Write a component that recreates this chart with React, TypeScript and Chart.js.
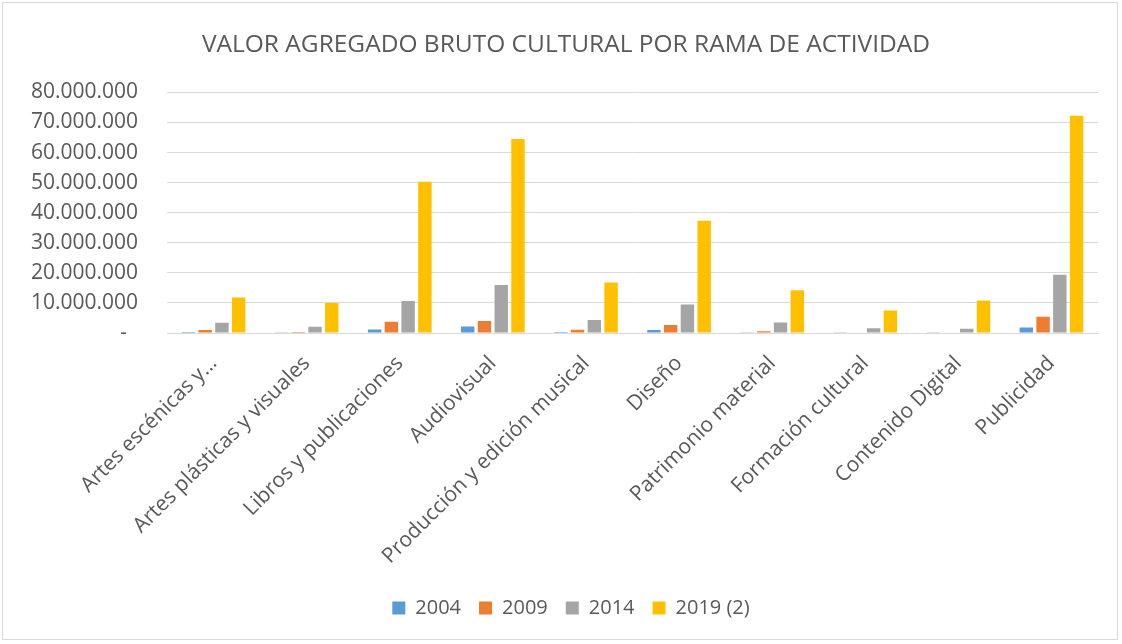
import React, { useEffect, useRef } from "react";
import { Chart, registerables } from "chart.js";

Chart.register(...registerables);

const categories = [
  "Artes escénicas y…",
  "Artes plásticas y visuales",
  "Libros y publicaciones",
  "Audiovisual",
  "Producción y edición musical",
  "Diseño",
  "Patrimonio material",
  "Formación cultural",
  "Contenido Digital",
  "Publicidad",
];

const series2004 = [300000, 100000, 1200000, 2200000, 300000, 1000000, 100000, 100000, 100000, 1800000];
const series2009 = [1000000, 300000, 3700000, 4000000, 1100000, 2700000, 600000, 200000, 200000, 5400000];
const series2014 = [3400000, 2100000, 10600000, 16000000, 4300000, 9500000, 3500000, 1600000, 1400000, 19400000];
const series2019 = [11800000, 10000000, 50300000, 64500000, 16800000, 37300000, 14200000, 7500000, 10800000, 72200000];

const seriesLabels = ["2004", "2009", "2014", "2019 (2)"];
const seriesColors = ["#5b9bd5", "#ed7d31", "#a5a5a5", "#ffc000"];

const titleText = "VALOR AGREGADO BRUTO CULTURAL POR RAMA DE ACTIVIDAD";

function fmt(v: number): string {
  if (v === 0) return "-  ";
  return String(Math.round(v)).replace(/\B(?=(\d{3})+(?!\d))/g, ".");
}

const shiftPlugin = {
  id: "shiftBlocks",
  afterLayout(chart: any) {
    const t = chart.titleBlock;
    if (t) {
      t.left = 34;
      t.right = 1098;
      t.width = t.right - t.left;
    }
    const l = chart.legend;
    if (l) {
      l.left = 44;
      l.right = 1098;
      l.width = l.right - l.left;
      if (typeof l.adjustHitBoxes === "function") l.adjustHitBoxes();
    }
  },
};

export default function App() {
  const ref = useRef<HTMLCanvasElement | null>(null);

  useEffect(() => {
    if (!ref.current) return;
    const font = "'Open Sans', sans-serif";
    const data = [series2004, series2009, series2014, series2019];
    const chart = new Chart(ref.current, {
      type: "bar",
      data: {
        labels: categories,
        datasets: data.map((d, i) => ({
          label: seriesLabels[i],
          data: d,
          backgroundColor: seriesColors[i],
          borderWidth: 0,
          barPercentage: 0.8,
          categoryPercentage: 0.72,
        })),
      },
      plugins: [shiftPlugin],
      options: {
        animation: false,
        responsive: false,
        maintainAspectRatio: false,
        layout: { padding: { left: 0, right: 24, top: 0, bottom: 16 } },
        plugins: {
          title: {
            display: true,
            text: titleText,
            color: "#595959",
            font: { family: font, size: 24.5, weight: "normal" },
            padding: { top: 30, bottom: 33 },
          },
          legend: {
            position: "bottom",
            labels: {
              color: "#595959",
              font: { family: font, size: 20 },
              boxWidth: 13,
              boxHeight: 13,
              padding: 18,
            },
          },
          tooltip: { enabled: false },
        },
        scales: {
          x: {
            grid: { display: false, drawTicks: false },
            border: { color: "#d9d9d9", width: 1 },
            afterFit: (s: any) => {
              s.height = 247;
            },
            ticks: {
              color: "#595959",
              font: { family: font, size: 21 },
              maxRotation: 45,
              minRotation: 45,
              autoSkip: false,
              padding: 18,
            },
          },
          y: {
            min: 0,
            max: 80000000,
            grid: { color: "#d9d9d9", drawTicks: false },
            border: { display: false },
            afterFit: (s: any) => {
              s.width = 167;
            },
            ticks: {
              stepSize: 10000000,
              color: "#595959",
              font: { family: font, size: 21 },
              padding: 29,
              callback: (v: any) => fmt(Number(v)),
            },
          },
        },
      },
    });
    return () => chart.destroy();
  }, []);

  return (
    <div style={{ position: "fixed", left: 0, top: 0, width: 1122, height: 644, background: "#fff" }}>
      <div
        style={{
          position: "absolute",
          left: 2,
          top: 2,
          width: 1116,
          height: 638,
          border: "1px solid #d9d9d9",
          boxSizing: "border-box",
        }}
      />
      <canvas ref={ref} width={1122} height={644} style={{ position: "absolute", left: 0, top: 0 }} />
    </div>
  );
}
